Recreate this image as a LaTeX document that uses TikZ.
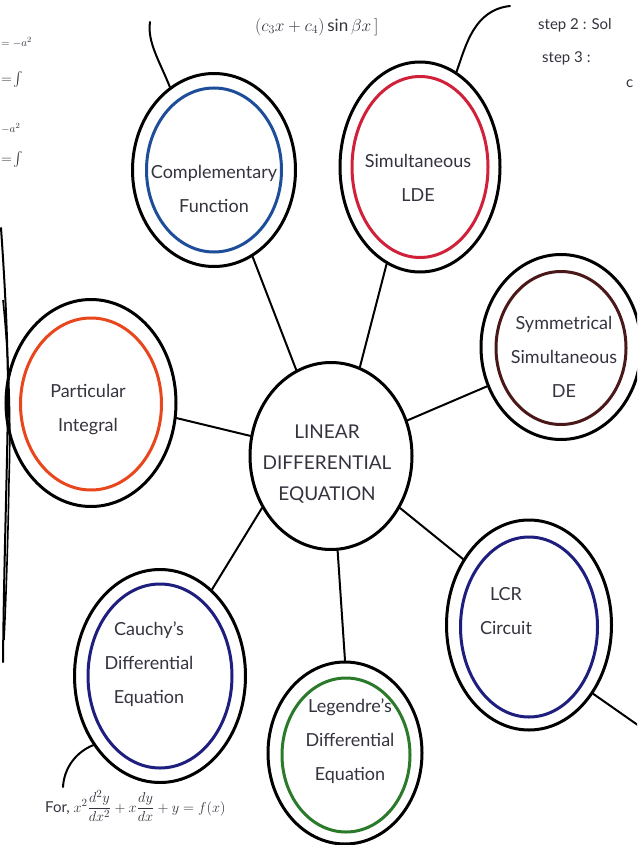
\documentclass[tikz,border=0pt]{standalone}
\usepackage{amsmath}
\usepackage{fontspec}
\setmainfont{Lato}
\usetikzlibrary{shapes.geometric}

\definecolor{ink}{HTML}{34343F}
\definecolor{ringblue}{HTML}{1E4E9A}
\definecolor{ringred}{HTML}{D0203A}
\definecolor{ringbrown}{HTML}{4A1818}
\definecolor{ringorange}{HTML}{E8461C}
\definecolor{ringnavy}{HTML}{1E1E7E}
\definecolor{ringgreen}{HTML}{2A7A2A}

\tikzset{
  outerring/.style={ellipse, draw=black, line width=3pt, inner sep=0pt},
  colorring/.style={ellipse, draw=#1, line width=3pt, inner sep=0pt},
  topic/.style={text=ink, align=center, font=\fontsize{18}{34}\selectfont},
  hub/.style={text=ink, align=center, font=\fontsize{19}{31}\selectfont},
  note/.style={text=ink, anchor=west, inner sep=0pt},
  link/.style={line width=2pt, black, line cap=round},
}

\begin{document}
\begin{tikzpicture}[x=1pt, y=-1pt]
\useasboundingbox (0,0) rectangle (637,845);
\fill[white] (0,0) rectangle (637,845);
\begin{scope}
\clip (0,0) rectangle (637,845);

% central hub
\node[outerring, minimum width=162pt, minimum height=187pt] (hub) at (331,456) {};
\node[hub] (hubtext) at (327,464) {LINEAR\\DIFFERENTIAL\\EQUATION};

% surrounding topics: black outer ring, coloured inner ring
\node[outerring, minimum width=163pt, minimum height=193pt] (comp) at (214,170) {};
\node[colorring=ringblue, minimum width=135pt, minimum height=164pt] (compring) at (214,170) {};
\node[topic] (comptext) at (214,189) {Complementary\\Function};

\node[outerring, minimum width=160pt, minimum height=210pt] (sim) at (420,167) {};
\node[colorring=ringred, minimum width=136pt, minimum height=181pt] (simring) at (420,167) {};
\node[topic] (simtext) at (418,178) {Simultaneous\\LDE};

\node[outerring, minimum width=160pt, minimum height=185pt] (sym) at (561,347) {};
\node[colorring=ringbrown, minimum width=130pt, minimum height=153pt] (symring) at (561,348) {};
\node[topic] (symtext) at (564,357) {Symmetrical\\Simultaneous\\DE};

\node[outerring, minimum width=170pt, minimum height=207pt] (pi) at (91,403) {};
\node[colorring=ringorange, minimum width=141pt, minimum height=172pt] (piring) at (91,404) {};
\node[topic] (pitext) at (88,410) {Particular\\Integral};

\node[outerring, minimum width=165pt, minimum height=210pt] (lcr) at (529,625) {};
\node[colorring=ringnavy, minimum width=137pt, minimum height=180pt] (lcrring) at (529,627) {};
\node[topic] (lcrtext) at (506,611) {LCR\\Circuit};

\node[outerring, minimum width=171pt, minimum height=213pt] (cauchy) at (160,676) {};
\node[colorring=ringnavy, minimum width=144pt, minimum height=184pt] (cauchyring) at (160,676) {};
\node[topic] (cauchytext) at (149,664) {Cauchy's\\Differential\\Equation};

\node[outerring, minimum width=154pt, minimum height=182pt] (leg) at (345,753) {};
\node[colorring=ringgreen, minimum width=128pt, minimum height=154pt] (legring) at (346,755) {};
\node[topic] (legtext) at (350,741) {Legendre's\\Differential\\Equation};

% spokes from the hub
\draw[link] (hub.112) -- (comp.-66);
\draw[link] (hub.72) -- (sim.-109);
\draw[link] (hub.25) -- (sym.208);
\draw[link] (hub.166) -- (pi.-10);
\draw[link] (hub.217) -- (cauchy.59);
\draw[link] (hub.-86) -- (leg.90);
\draw[link] (hub.-37) -- (lcr.135);

% tails leading to the notes
\coordinate (comptail) at (150,22);
\coordinate (simtail) at (510,6);
\coordinate (cauchytail) at (63,787);
\coordinate (lcrtail) at (642,728);
\draw[link] (comp.118) .. controls (160,62) and (147,42) .. (comptail);
\draw[link] (sim.69) .. controls (466,45) and (474,10) .. (simtail);
\draw[link] (cauchy.226) .. controls (76,752) and (64,768) .. (cauchytail);
\draw[link] (lcr.-47) -- (lcrtail);

% margin strokes on the left
\draw[link] (1,228) .. controls (6,300) and (8,350) .. (8,400) .. controls (7,480) and (4,560) .. (3,662);
\draw[line width=1.6pt, black] (3,300) .. controls (9,360) and (11,420) .. (9,480) .. controls (8,540) and (6,600) .. (4,640);

% notes
\node[note, font=\fontsize{17}{19}\selectfont] (topnote) at (255,27) {$(c_3x+c_4)\sin\beta x\,]$};
\node[note, font=\fontsize{15}{17}\selectfont] (step2) at (538,25) {step 2 : Sol};
\node[note, font=\fontsize{15}{17}\selectfont] (step3) at (542,58) {step 3 :};
\node[note, font=\fontsize{15}{17}\selectfont] (stepc) at (626,84) {c};
\node[note, font=\fontsize{11}{13}\selectfont] (lefta) at (1,42) {$=-a^2$};
\node[note, font=\fontsize{14}{16}\selectfont] (leftb) at (1,80) {$=\!\int$};
\node[note, font=\fontsize{11}{13}\selectfont] (leftc) at (1,128) {$-a^2$};
\node[note, font=\fontsize{14}{16}\selectfont] (leftd) at (1,160) {$=\!\int$};
\node[note, font=\fontsize{15}{17}\selectfont] (formula) at (45,806) {For, $x^2\dfrac{d^2y}{dx^2}+x\dfrac{dy}{dx}+y=f(x)$};
\end{scope}
\end{tikzpicture}
\end{document}
